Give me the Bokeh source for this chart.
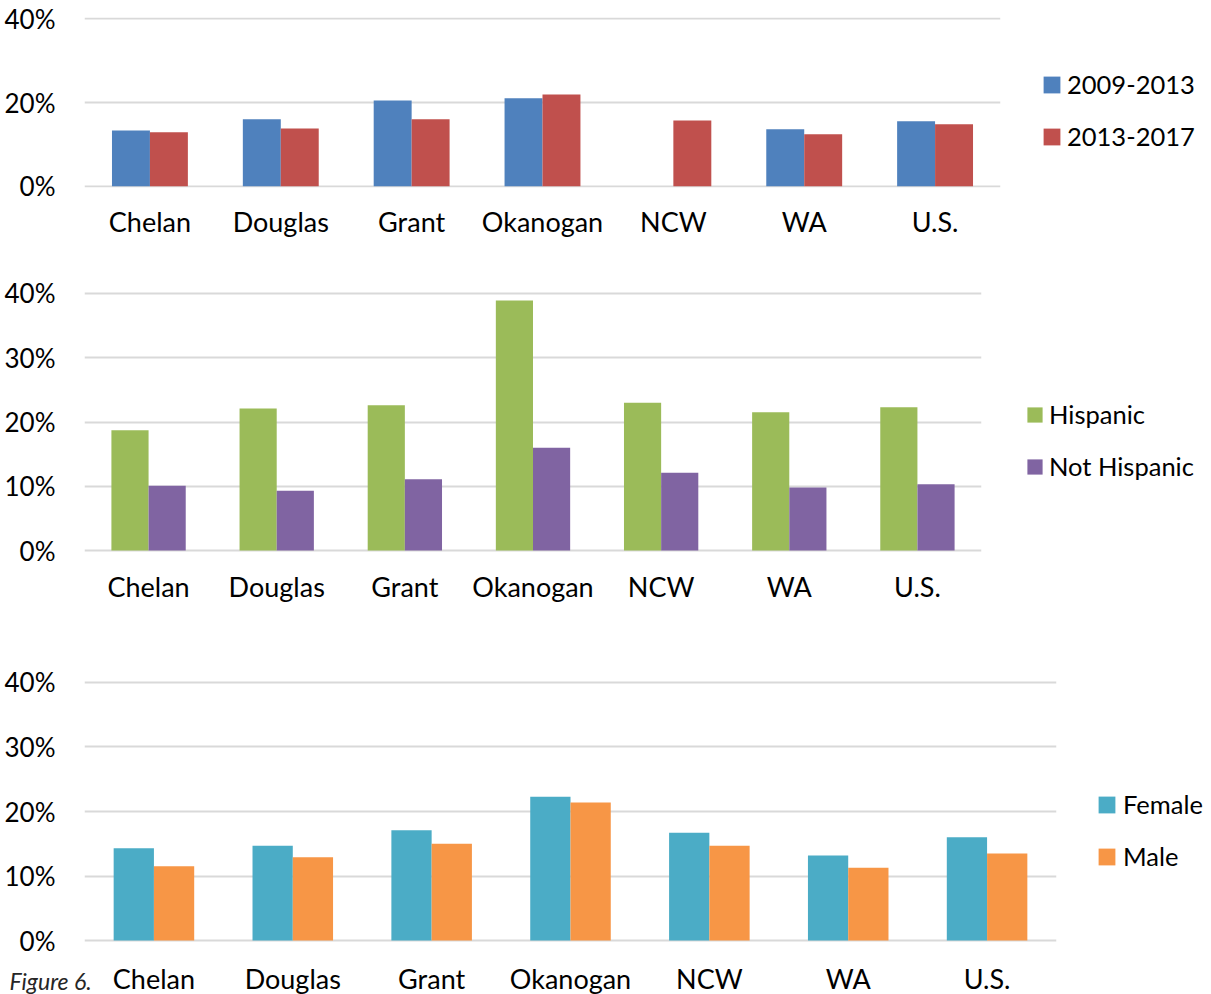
from bokeh.plotting import figure
from bokeh.models import (Range1d, FactorRange, ColumnDataSource, Legend, LegendItem,
                          FixedTicker, Title, CustomJSTickFormatter)
from bokeh.transform import dodge
from bokeh.embed import file_html
from bokeh.resources import INLINE

nan = float("nan")

categories = ["Chelan", "Douglas", "Grant", "Okanogan", "NCW", "WA", "U.S."]

# Chart 1: by period
period_labels = ["2009-2013", "2013-2017"]
p2009_2013 = [13.3, 16.0, 20.5, 21.0, nan, 13.6, 15.5]
p2013_2017 = [12.9, 13.8, 16.0, 21.9, 15.7, 12.4, 14.8]

# Chart 2: by ethnicity
eth_labels = ["Hispanic", "Not Hispanic"]
hispanic = [18.7, 22.1, 22.6, 38.9, 23.0, 21.5, 22.3]
not_hispanic = [10.1, 9.3, 11.1, 16.0, 12.1, 9.8, 10.3]

# Chart 3: by sex
sex_labels = ["Female", "Male"]
female = [14.3, 14.7, 17.1, 22.3, 16.7, 13.2, 16.0]
male = [11.5, 12.9, 15.0, 21.4, 14.7, 11.3, 13.5]

ticks_1 = [0, 20, 40]
ticks_23 = [0, 10, 20, 30, 40]

FONT = "Lato"
GRID = "#D9D9D9"


def make_chart(a, b, labels, colors, ticks, fw, fh, b_top, b_bottom, b_right,
               x_standoff, leg_x, leg_y, leg_glyph, leg_standoff):
    src = ColumnDataSource(dict(cat=categories, a=a, b=b))
    p = figure(x_range=FactorRange(*categories, range_padding=0),
               y_range=Range1d(-0.3, 40.3),
               frame_width=fw, frame_height=fh,
               min_border_left=84, min_border_right=b_right,
               min_border_top=b_top, min_border_bottom=b_bottom,
               output_backend="svg", toolbar_location=None,
               outline_line_color=None)
    bw = 0.29
    r1 = p.vbar(x=dodge("cat", -bw / 2, range=p.x_range), top="a", width=bw,
                source=src, fill_color=colors[0], line_color=None)
    r2 = p.vbar(x=dodge("cat", bw / 2, range=p.x_range), top="b", width=bw,
                source=src, fill_color=colors[1], line_color=None)

    p.yaxis.ticker = FixedTicker(ticks=ticks)
    p.yaxis.formatter = CustomJSTickFormatter(code="return tick + '%'")
    for ax in (p.xaxis, p.yaxis):
        ax.axis_line_color = None
        ax.major_tick_line_color = None
        ax.minor_tick_line_color = None
        ax.major_label_text_font = FONT
        ax.major_label_text_color = "#000000"
    p.yaxis.major_label_text_font_size = "26px"
    p.xaxis.major_label_text_font_size = "27px"
    p.yaxis.major_label_standoff = 23
    p.xaxis.major_label_standoff = x_standoff

    p.xgrid.grid_line_color = None
    p.ygrid.ticker = FixedTicker(ticks=ticks)
    p.ygrid.grid_line_color = GRID
    p.ygrid.grid_line_width = 2

    legend = Legend(items=[LegendItem(label=labels[0], renderers=[r1]),
                           LegendItem(label=labels[1], renderers=[r2])],
                    location=(leg_x, leg_y), orientation="vertical",
                    glyph_width=leg_glyph, glyph_height=leg_glyph,
                    label_standoff=leg_standoff,
                    spacing=22, padding=0, margin=0,
                    border_line_color=None, background_fill_alpha=0,
                    label_text_font=FONT, label_text_font_size="25.5px",
                    label_text_color="#000000", label_height=leg_glyph)
    p.add_layout(legend, "right")
    return p


p1 = make_chart(p2009_2013, p2013_2017, period_labels, ["#4F81BD", "#C0504D"],
                ticks_1, 916, 170, 17, 75, 211, 11, 41, 36, 21, 5)
p2 = make_chart(hispanic, not_hispanic, eth_labels, ["#9BBB59", "#8064A2"],
                ticks_23, 897, 261, 29, 88, 230, 11, 44, 71, 19, 5)
p3 = make_chart(female, male, sex_labels, ["#4BACC6", "#F79646"],
                ticks_23, 972, 262, 40, 52, 155, 13, 40, 71, 21, 6)

caption = Title(text="Figure 6.", align="left", offset=-75, standoff=-62,
                vertical_align="top", text_font=FONT, text_font_style="italic",
                text_font_size="23px", text_color="#262626")
p3.add_layout(caption, "below")

open("out.html", "w").write(file_html([p1, p2, p3], INLINE))
